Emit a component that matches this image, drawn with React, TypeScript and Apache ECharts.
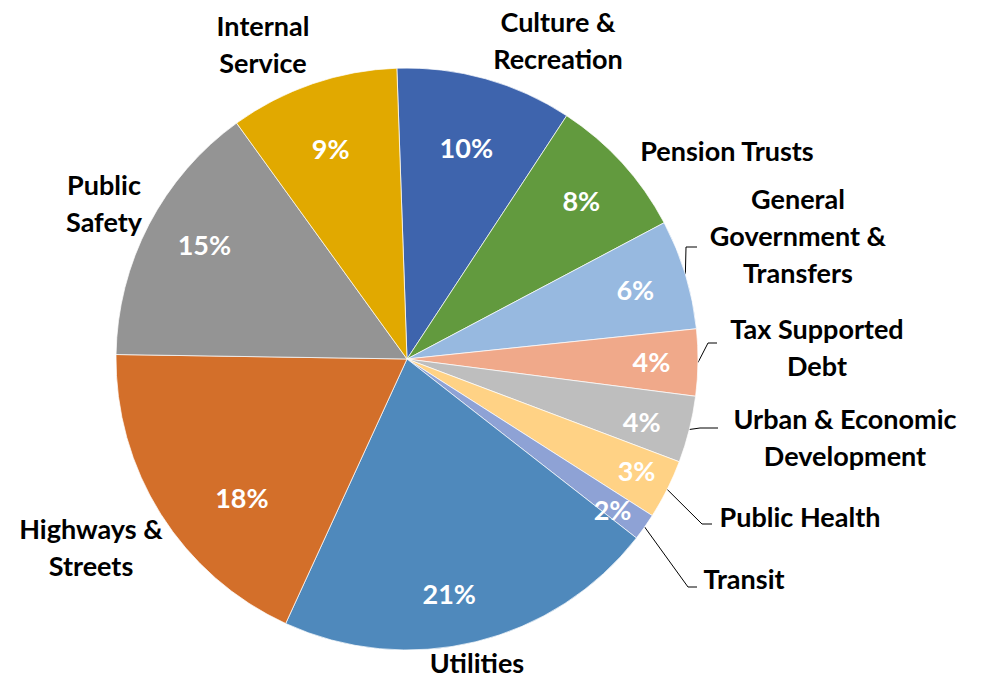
import React, { useEffect, useRef } from "react";
import * as echarts from "echarts";

// Budget share by function (percent of total), clockwise from 12 o'clock
const categories = [
  "Culture &\nRecreation",
  "Pension Trusts",
  "General\nGovernment &\nTransfers",
  "Tax Supported\nDebt",
  "Urban & Economic\nDevelopment",
  "Public Health",
  "Transit",
  "Utilities",
  "Highways &\nStreets",
  "Public\nSafety",
  "Internal\nService",
];
const shares = [9.8, 8.0, 6.1, 3.7, 3.7, 3.3, 1.5, 21.3, 18.4, 14.8, 9.4];
const sliceColors = [
  "#3E64AD",
  "#629A3E",
  "#97B9E0",
  "#F0A98A",
  "#BEBEBE",
  "#FFD285",
  "#8EA2D5",
  "#4F89BC",
  "#D36F2A",
  "#949494",
  "#E1A900",
];

// label placement (styling only): centre of each outside label block
const labelPos: [number, number][] = [
  [558, 40],
  [727, 150],
  [798, 235],
  [817, 347],
  [845, 437],
  [800, 516],
  [744, 578],
  [477, 662],
  [91, 547],
  [104, 203],
  [263, 44],
];
// leader lines: [bendX, bendY, endX] or null
const leaders: ([number, number, number] | null)[] = [
  null,
  null,
  [686, 247, 697],
  [708, 343, 717],
  [700, 428, 718],
  [702, 524, 712],
  [688, 587, 697],
  null,
  null,
  null,
  null,
];
// inside percent labels: radial factor (of radius) and angular nudge (deg)
const innerRadial = [0.756, 0.81, 0.82, 0.84, 0.835, 0.877, 0.876, 0.82, 0.74, 0.8, 0.77];
const innerNudge = [0, 0, 0, 0, 1, -0.7, 1, 3.5, -7.7, 2, -1];

const FONT = "Lato, 'Open Sans', sans-serif";
const R = 291;
const CENTER = [407, 359];
const START = 92;

export default function App() {
  const ref = useRef<HTMLDivElement>(null);
  useEffect(() => {
    if (!ref.current) return;
    const chart = echarts.init(ref.current, undefined, { renderer: "svg" });
    const mainData = categories.map((name, i) => ({
      name,
      value: shares[i],
      itemStyle: { color: sliceColors[i] },
      labelLine: { show: leaders[i] != null },
      label: name.indexOf("\n") < 0 ? { lineHeight: 30 } : undefined,
    }));
    const overlayData = categories.map((name, i) => ({ name, value: shares[i] }));
    chart.setOption({
      animation: false,
      backgroundColor: "#ffffff",
      series: [
        {
          type: "pie",
          center: CENTER,
          radius: [0, R],
          startAngle: START,
          clockwise: true,
          avoidLabelOverlap: false,
          silent: true,
          itemStyle: { borderColor: "rgba(255,255,255,0.7)", borderWidth: 1 },
          label: {
            show: true,
            position: "outside",
            formatter: "{b}",
            fontFamily: FONT,
            fontWeight: "bold",
            fontSize: 27,
            lineHeight: 37,
            color: "#000000",
          },
          labelLine: {
            show: true,
            length: 10,
            length2: 10,
            lineStyle: { color: "#000000", width: 1 },
          },
          labelLayout: (params: any) => {
            const i = params.dataIndex;
            const pos = labelPos[i];
            const res: any = { x: pos[0], y: pos[1], align: "center", verticalAlign: "middle" };
            const lead = leaders[i];
            if (lead && params.labelLinePoints) {
              const p0 = params.labelLinePoints[0];
              res.labelLinePoints = [p0, [lead[0], lead[1]], [lead[2], lead[1]]];
            }
            return res;
          },
          data: mainData,
        },
        {
          type: "pie",
          center: CENTER,
          radius: [R * 0.6, R],
          startAngle: START,
          clockwise: true,
          silent: true,
          itemStyle: { color: "rgba(0,0,0,0)" },
          label: {
            show: true,
            position: "inside",
            formatter: (p: any) => Math.round(p.value) + "%",
            fontFamily: FONT,
            fontWeight: "bold",
            fontSize: 27,
            color: "#ffffff",
          },
          labelLine: { show: false },
          labelLayout: (params: any) => {
            const i = params.dataIndex;
            const r = params.labelRect;
            const lx = r.x + r.width / 2 - CENTER[0];
            const ly = r.y + r.height / 2 - CENTER[1];
            const a = Math.atan2(lx, -ly) + (innerNudge[i] * Math.PI) / 180;
            const nd = R * innerRadial[i];
            return {
              x: CENTER[0] + nd * Math.sin(a),
              y: CENTER[1] - nd * Math.cos(a),
              align: "center",
              verticalAlign: "middle",
            };
          },
          data: overlayData,
        },
      ],
    });
    return () => chart.dispose();
  }, []);
  return (
    <div
      ref={ref}
      style={{ position: "absolute", left: 0, top: 0, width: 983, height: 678 }}
    />
  );
}
